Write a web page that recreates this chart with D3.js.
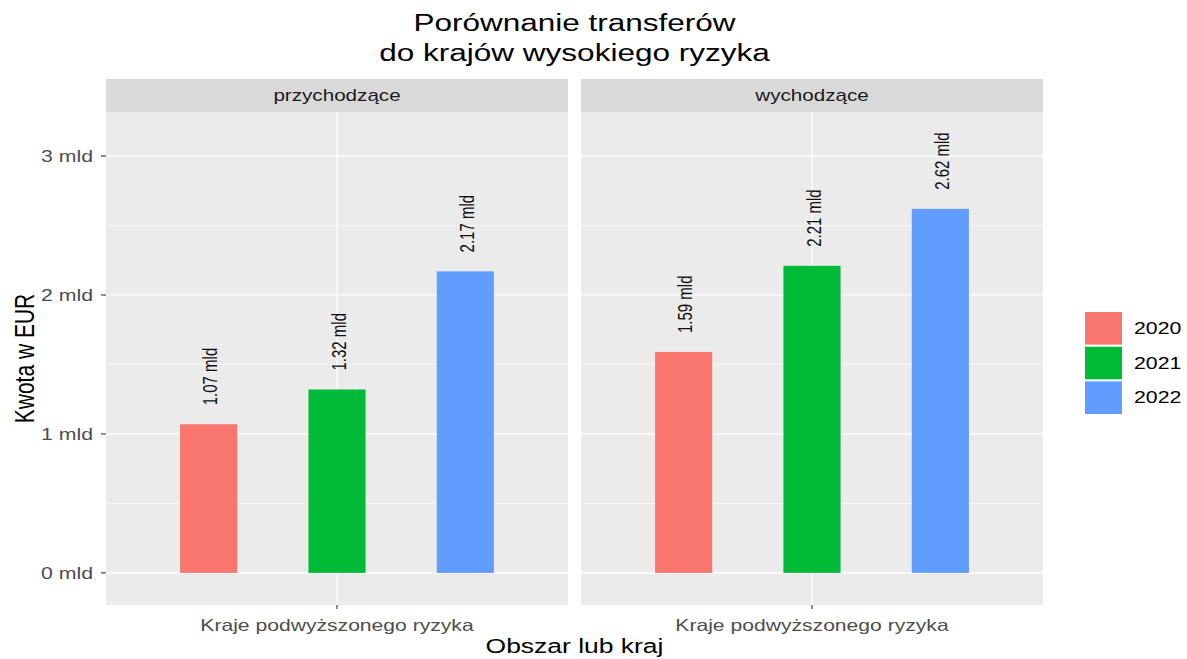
<!DOCTYPE html>
<html>
<head>
<meta charset="utf-8">
<script src="https://cdn.jsdelivr.net/npm/d3@7"></script>
<style>
  body { margin: 0; background: #fff; }
  text { font-family: "Liberation Sans", Arial, sans-serif; }
</style>
</head>
<body>
<div id="chart"></div>
<script>
// data
var facets = ["przychodzące", "wychodzące"];
var category = ["Kraje podwyższonego ryzyka"];
var years = ["2020", "2021", "2022"];
var incoming = [1.07, 1.32, 2.17];
var outgoing = [1.59, 2.21, 2.62];
var yTicks = [0, 1, 2, 3];
var yMinor = [0.5, 1.5, 2.5];
var colors = ["#F8766D", "#00BA38", "#619CFF"];

var seriesByFacet = [incoming, outgoing];

var W = 1187, H = 659;
var margin = { top: 112, left: 106 };
var panelW = 462, panelGap = 13, panelH = 493, stripH = 33;

var svg = d3.select("#chart").append("svg")
    .attr("width", W)
    .attr("height", H);

// helper: place text with horizontal stretch (the reference is stretched sideways)
function place(sel, x, y, sx, rotate) {
    sel.attr("transform", "translate(" + x + "," + y + ") scale(" + sx + ",1)" + (rotate ? " rotate(-90)" : ""));
    return sel;
}

// scales
var y = d3.scaleLinear().domain([-0.231, 3.317]).range([panelH, 0]);
var xCat = d3.scaleBand().domain(category).range([0, panelW]).paddingInner(0).paddingOuter(0.1);
var xYear = d3.scaleBand().domain(years).range([0, xCat.bandwidth()]).paddingInner(0.555).paddingOuter(0.2775);
var color = d3.scaleOrdinal().domain(years).range(colors);

var fmt = function(v) { return v.toFixed(2) + " mld"; };

facets.forEach(function(f, i) {
    var px = margin.left + i * (panelW + panelGap);
    var g = svg.append("g").attr("transform", "translate(" + px + "," + margin.top + ")");

    // strip
    g.append("rect").attr("x", 0).attr("y", -stripH).attr("width", panelW).attr("height", stripH)
        .attr("fill", "#D9D9D9");
    place(g.append("text"), panelW / 2, -stripH / 2, 1.29)
        .attr("text-anchor", "middle").attr("dominant-baseline", "central")
        .attr("font-size", 16).attr("fill", "#1A1A1A").text(f);

    // panel background
    g.append("rect").attr("width", panelW).attr("height", panelH).attr("fill", "#EBEBEB");

    // grid
    g.selectAll(".minor").data(yMinor).enter().append("line")
        .attr("x1", 0).attr("x2", panelW)
        .attr("y1", function(d) { return y(d); }).attr("y2", function(d) { return y(d); })
        .attr("stroke", "#fff").attr("stroke-width", 0.6);
    g.selectAll(".major").data(yTicks).enter().append("line")
        .attr("x1", 0).attr("x2", panelW)
        .attr("y1", function(d) { return y(d); }).attr("y2", function(d) { return y(d); })
        .attr("stroke", "#fff").attr("stroke-width", 1.2);
    g.selectAll(".vmajor").data(category).enter().append("line")
        .attr("x1", function(d) { return xCat(d) + xCat.bandwidth() / 2; })
        .attr("x2", function(d) { return xCat(d) + xCat.bandwidth() / 2; })
        .attr("y1", 0).attr("y2", panelH)
        .attr("stroke", "#fff").attr("stroke-width", 1.2);

    var rows = years.map(function(yr, j) { return { year: yr, value: seriesByFacet[i][j] }; });
    var x0 = xCat(category[0]);

    // bars
    g.selectAll(".bar").data(rows).enter().append("rect")
        .attr("x", function(d) { return x0 + xYear(d.year); })
        .attr("width", xYear.bandwidth())
        .attr("y", function(d) { return y(d.value); })
        .attr("height", function(d) { return y(0) - y(d.value); })
        .attr("fill", function(d) { return color(d.year); });

    // value labels
    rows.forEach(function(d) {
        place(g.append("text"), x0 + xYear(d.year) + xYear.bandwidth() / 2 + 2, y(d.value) - 19, 1.35, true)
            .attr("dominant-baseline", "central")
            .attr("font-size", 15).attr("fill", "#111").text(fmt(d.value));
    });

    // x axis ticks and labels
    category.forEach(function(c) {
        var cx = xCat(c) + xCat.bandwidth() / 2;
        g.append("line").attr("x1", cx).attr("x2", cx).attr("y1", panelH).attr("y2", panelH + 4)
            .attr("stroke", "#333").attr("stroke-width", 1.1);
        place(g.append("text"), cx, panelH + 20, 1.28)
            .attr("text-anchor", "middle").attr("dominant-baseline", "central")
            .attr("font-size", 16.5).attr("fill", "#4D4D4D").text(c);
    });

    // y axis on first panel
    if (i === 0) {
        yTicks.forEach(function(t) {
            g.append("line").attr("x1", -5).attr("x2", 0).attr("y1", y(t)).attr("y2", y(t))
                .attr("stroke", "#333").attr("stroke-width", 1.1);
            place(g.append("text"), -13, y(t), 1.29)
                .attr("text-anchor", "end").attr("dominant-baseline", "central")
                .attr("font-size", 16.5).attr("fill", "#4D4D4D").text(t + " mld");
        });
    }
});

var plotCenter = margin.left + (2 * panelW + panelGap) / 2;

// title
place(svg.append("text"), plotCenter, 23, 1.37)
    .attr("text-anchor", "middle").attr("dominant-baseline", "central")
    .attr("font-size", 23).attr("fill", "#000").text("Porównanie transferów");
place(svg.append("text"), plotCenter, 53, 1.37)
    .attr("text-anchor", "middle").attr("dominant-baseline", "central")
    .attr("font-size", 23).attr("fill", "#000").text("do krajów wysokiego ryzyka");

// axis titles
place(svg.append("text"), plotCenter, 646, 1.26)
    .attr("text-anchor", "middle").attr("dominant-baseline", "central")
    .attr("font-size", 21).attr("fill", "#000").text("Obszar lub kraj");
place(svg.append("text"), 24, margin.top + panelH / 2, 1.35, true)
    .attr("text-anchor", "middle").attr("dominant-baseline", "central")
    .attr("font-size", 21).attr("fill", "#000").text("Kwota w EUR");

// legend
var legY = d3.scaleBand().domain(years).range([312, 414]).paddingInner(0.06);
var leg = svg.append("g");
years.forEach(function(yr) {
    leg.append("rect").attr("x", 1085).attr("y", legY(yr)).attr("width", 37).attr("height", legY.bandwidth())
        .attr("fill", color(yr));
    place(leg.append("text"), 1134, legY(yr) + legY.bandwidth() / 2, 1.25)
        .attr("dominant-baseline", "central")
        .attr("font-size", 17).attr("fill", "#000").text(yr);
});
</script>
</body>
</html>
